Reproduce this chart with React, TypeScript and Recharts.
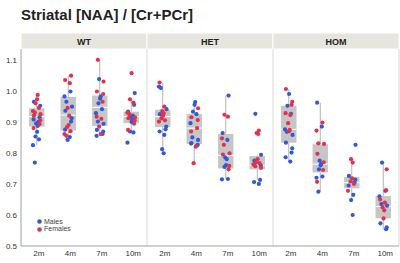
import React from "react";
import {
  ComposedChart, Scatter, XAxis, YAxis, ReferenceArea, ReferenceLine, Legend, usePlotArea,
} from "recharts";

const AGES = ["2m", "4m", "7m", "10m"];
const GENOTYPES = ["WT", "HET", "HOM"];

// one list per group: WT 2m..10m, HET 2m..10m, HOM 2m..10m
const MALES = [
  [0.965, 0.952, 0.915, 0.908, 0.9, 0.895, 0.887, 0.868, 0.853, 0.844, 0.825, 0.769],
  [0.998, 0.982, 0.965, 0.949, 0.936, 0.912, 0.901, 0.875, 0.851, 0.842],
  [1.038, 0.982, 0.975, 0.96, 0.941, 0.928, 0.901, 0.894, 0.874, 0.869, 0.861, 0.855],
  [0.993, 0.955, 0.933, 0.92, 0.917, 0.908, 0.9, 0.869, 0.866, 0.833],
  [1.014, 1.009, 0.941, 0.925, 0.885, 0.876, 0.869, 0.858, 0.812, 0.799],
  [0.964, 0.955, 0.933, 0.925, 0.896, 0.85, 0.842, 0.832, 0.826, 0.824, 0.83],
  [0.985, 0.864, 0.842, 0.786, 0.78, 0.761, 0.755, 0.716, 0.715],
  [0.926, 0.794, 0.775, 0.76, 0.713, 0.706, 0.7],
  [0.99, 0.952, 0.926, 0.876, 0.868, 0.858, 0.833, 0.815, 0.801, 0.786, 0.772],
  [0.962, 0.885, 0.775, 0.765, 0.76, 0.747, 0.724, 0.72, 0.675],
  [0.826, 0.726, 0.714, 0.705, 0.695, 0.665, 0.648, 0.6],
  [0.769, 0.678, 0.66, 0.635, 0.63, 0.573, 0.56, 0.554],
];
const FEMALES = [
  [0.987, 0.973, 0.96, 0.945, 0.935, 0.93, 0.925, 0.92, 0.905, 0.893, 0.88],
  [1.049, 1.035, 1.025, 0.945, 0.92, 0.89, 0.883, 0.87, 0.861, 0.855],
  [1.1, 1.03, 0.998, 0.99, 0.965, 0.917, 0.91, 0.885, 0.861],
  [1.057, 0.973, 0.962, 0.93, 0.925, 0.915, 0.912, 0.905, 0.894, 0.874],
  [1.027, 0.949, 0.935, 0.928, 0.92, 0.912, 0.905, 0.901],
  [0.944, 0.915, 0.906, 0.88, 0.869, 0.82, 0.767],
  [0.923, 0.917, 0.847, 0.826, 0.799, 0.795, 0.758, 0.747],
  [0.872, 0.864, 0.861, 0.78, 0.77, 0.767, 0.763, 0.757, 0.752],
  [1.006, 0.965, 0.955, 0.928, 0.922, 0.896, 0.874, 0.87],
  [0.898, 0.872, 0.831, 0.829, 0.797, 0.77, 0.745, 0.707],
  [0.78, 0.769, 0.718, 0.708, 0.7, 0.678],
  [0.747, 0.68, 0.65, 0.64, 0.625, 0.615, 0.589],
];

const Q1 = [0.885, 0.872, 0.887, 0.896, 0.883, 0.829, 0.75, 0.747, 0.833, 0.737, 0.686, 0.589];
const MEDIAN = [0.917, 0.922, 0.947, 0.917, 0.917, 0.88, 0.792, 0.76, 0.876, 0.764, 0.704, 0.627];
const Q3 = [0.944, 0.98, 0.985, 0.933, 0.939, 0.925, 0.861, 0.79, 0.952, 0.828, 0.722, 0.661];
const WHISKER_LO = [0.825, 0.842, 0.855, 0.869, 0.799, 0.767, 0.715, 0.713, 0.772, 0.675, 0.648, 0.554];
const WHISKER_HI = [0.987, 1.049, 1.1, 0.975, 1.027, 0.964, 0.985, 0.794, 1.006, 0.962, 0.78, 0.769];

const Y_TICKS = [0.5, 0.6, 0.7, 0.8, 0.9, 1.0, 1.1];

const BLUE = "#3259d6";
const RED = "#e2314f";
const BOX = "#c6c6c6";
const HALF_BOX = 0.245;
const JITTER = [-0.09, 0.07, -0.02, 0.11, -0.12, 0.03, 0.09, -0.06, 0.01, -0.1, 0.12, -0.04, 0.05];

const toPoints = (groups: number[][], shift: number) =>
  groups.flatMap((vals, g) =>
    vals.map((v, k) => ({ x: g + 0.5 + JITTER[(k * 3 + g + shift) % JITTER.length], y: v }))
  );

const malePts = toPoints(MALES, 0);
const femalePts = toPoints(FEMALES, 5);

const dot = (color: string) => (p: any) => <circle cx={p.cx} cy={p.cy} r={2.1} fill={color} />;

// grey facet strip above the plot, one cell per genotype
function Strip() {
  const plot = usePlotArea();
  if (!plot) return null;
  const w = plot.width / GENOTYPES.length;
  return (
    <g>
      {GENOTYPES.map((name, i) => (
        <g key={name}>
          <rect x={plot.x + i * w} y={plot.y - 16} width={w} height={16} fill="#e6e5de" stroke="#fff" strokeWidth={1} />
          <text x={plot.x + (i + 0.5) * w} y={plot.y - 4.5} textAnchor="middle" fontSize={9} fontWeight="bold" fill="#222">
            {name}
          </text>
        </g>
      ))}
    </g>
  );
}

function LegendBox({ payload }: any) {
  const items = [...(payload || [])].sort((a: any, b: any) => (a.value === "Males" ? -1 : b.value === "Males" ? 1 : 0));
  return (
    <div style={{ fontSize: 7, color: "#444" }}>
      {items.map((e: any) => (
        <div key={e.value} style={{ display: "flex", alignItems: "center", height: 7.7, lineHeight: "7.7px" }}>
          <svg width={5} height={5} style={{ marginRight: 2 }}>
            <circle cx={2.5} cy={2.5} r={2.3} fill={e.color} />
          </svg>
          <span>{e.value}</span>
        </div>
      ))}
    </div>
  );
}

export default function App() {
  const groups = MEDIAN.map((_, i) => i);
  return (
    <div style={{ position: "absolute", left: 0, top: 0, width: 400, height: 263, fontFamily: "'Liberation Sans', Arial, sans-serif", background: "#fff" }}>
      <div style={{ position: "absolute", left: 21, top: 6, fontSize: 15, fontWeight: "bold", color: "#222", whiteSpace: "nowrap" }}>
        Striatal [NAA] / [Cr+PCr]
      </div>
      <ComposedChart width={400} height={263} margin={{ top: 49, right: 1, bottom: 0, left: 0 }}>
        <XAxis
          dataKey="x" type="number" domain={[0, 12]} ticks={groups.map((g) => g + 0.5)}
          tickFormatter={(v: number) => AGES[Math.floor(v) % 4]}
          height={17} tickSize={0} tickMargin={4} stroke="#a0a0a0"
          tick={{ fontSize: 8, fill: "#333", dx: 2 }} interval={0}
        />
        <YAxis
          dataKey="y" type="number" domain={[0.5, 1.135]} ticks={Y_TICKS} allowDataOverflow
          tickFormatter={(v: number) => v.toFixed(1)} width={21} tickSize={0} tickMargin={4}
          stroke="#a0a0a0" tick={{ fontSize: 8, fill: "#333" }}
        />
        {[4, 8, 12].map((x) => (
          <ReferenceLine key={"d" + x} x={x} stroke="#d8d8d8" />
        ))}
        {groups.map((g) => (
          <ReferenceLine key={"wl" + g} segment={[{ x: g + 0.5, y: WHISKER_LO[g] }, { x: g + 0.5, y: Q1[g] }]} stroke="#b4b4b4" />
        ))}
        {groups.map((g) => (
          <ReferenceLine key={"wh" + g} segment={[{ x: g + 0.5, y: Q3[g] }, { x: g + 0.5, y: WHISKER_HI[g] }]} stroke="#b4b4b4" />
        ))}
        {groups.map((g) => (
          <ReferenceArea key={"b" + g} x1={g + 0.5 - HALF_BOX} x2={g + 0.5 + HALF_BOX} y1={Q1[g]} y2={Q3[g]} fill={BOX} fillOpacity={1} />
        ))}
        {groups.map((g) => (
          <ReferenceLine key={"m" + g} segment={[{ x: g + 0.5 - HALF_BOX, y: MEDIAN[g] }, { x: g + 0.5 + HALF_BOX, y: MEDIAN[g] }]} stroke="#fff" strokeWidth={1} />
        ))}
        <Scatter name="Males" data={malePts} fill={BLUE} shape={dot(BLUE)} isAnimationActive={false} />
        <Scatter name="Females" data={femalePts} fill={RED} shape={dot(RED)} isAnimationActive={false} />
        <Strip />
        <Legend
          layout="vertical" align="center" verticalAlign="middle" content={<LegendBox />}
          wrapperStyle={{ left: 37, top: 217.5, width: "auto", height: "auto" }}
        />
      </ComposedChart>
    </div>
  );
}
